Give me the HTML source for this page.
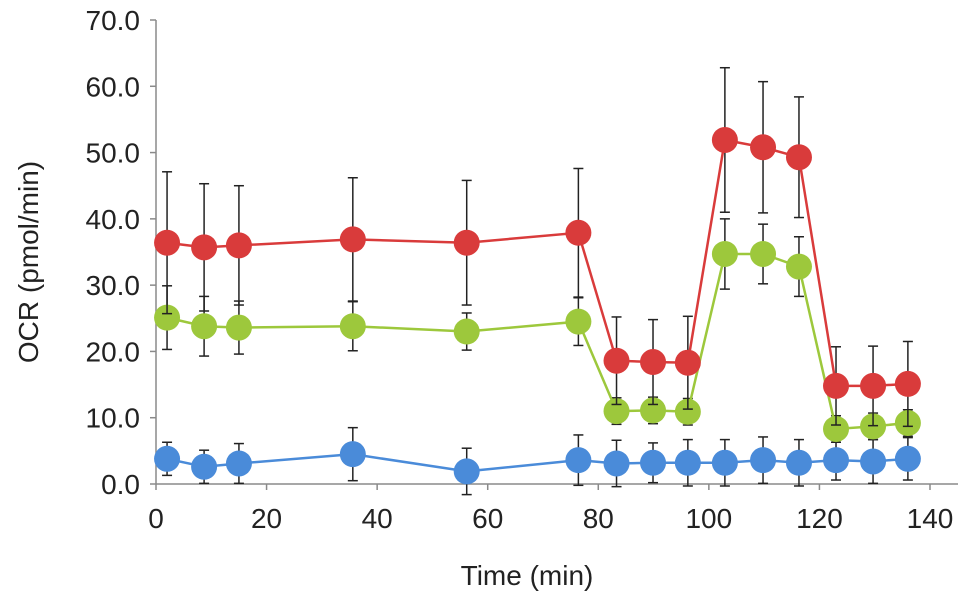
<!DOCTYPE html>
<html><head><meta charset="utf-8"><style>
body{margin:0;background:#fff;}
svg{display:block;font-family:"Liberation Sans",Arial,sans-serif;}
</style></head><body>
<svg id="chart" width="969" height="605" viewBox="0 0 969 605"></svg>
<script>
const times=[2.0,8.7,15.0,35.6,56.2,76.4,83.3,89.9,96.2,102.9,109.8,116.3,123.0,129.7,136.0];
const redVals=[36.4,35.7,36.0,36.9,36.4,37.9,18.6,18.4,18.3,51.9,50.8,49.3,14.8,14.8,15.1];
const redErr=[10.7,9.6,9.0,9.3,9.4,9.7,6.6,6.4,7.0,10.9,9.9,9.1,5.9,6.0,6.4];
const greenVals=[25.1,23.8,23.6,23.8,23.0,24.5,11.0,11.1,10.9,34.7,34.7,32.8,8.3,8.7,9.2];
const greenErr=[4.8,4.5,4.0,3.7,2.8,3.6,2.0,2.0,2.0,5.3,4.5,4.5,2.0,2.0,2.0];
const blueVals=[3.8,2.6,3.1,4.5,1.9,3.6,3.1,3.2,3.2,3.2,3.6,3.2,3.6,3.4,3.8];
const blueErr=[2.5,2.5,3.0,4.0,3.5,3.8,3.5,3.0,3.5,3.5,3.5,3.5,3.0,3.3,3.2];
const xTicks=[0,20,40,60,80,100,120,140];
const yTicks=[0,10,20,30,40,50,60,70];

const NS="http://www.w3.org/2000/svg";
const svg=document.getElementById('chart');
const X0=156,X1=930,Y0=484,Y1=20;
const xs=v=>X0+(v-0)/140*(X1-X0);
const ys=v=>Y0-(v-0)/70*(Y0-Y1);
function mk(tag,attrs,parent){const e=document.createElementNS(NS,tag);for(const k in attrs)e.setAttribute(k,attrs[k]);(parent||svg).appendChild(e);return e;}

const axes=mk('g',{});


const yl=mk('line',{x1:X0,y1:Y1,x2:X0,y2:Y0,stroke:'#8a8a8a','stroke-width':1.5},axes);


const xl=mk('line',{x1:X0,y1:Y0,x2:X1+28,y2:Y0,stroke:'#8a8a8a','stroke-width':1.5},axes);


yTicks.forEach(t=>{
  mk('line',{x1:X0-6,x2:X0,y1:ys(t),y2:ys(t),stroke:'#8a8a8a','stroke-width':1.5},axes);
  const tx=mk('text',{x:X0-16,y:ys(t)+10,'text-anchor':'end','font-size':28,fill:'#222'},axes);
  tx.textContent=t.toFixed(1);
  
  
});
xTicks.forEach(t=>{
  mk('line',{x1:xs(t),x2:xs(t),y1:Y0,y2:Y0+6,stroke:'#8a8a8a','stroke-width':1.5},axes);
  const tx=mk('text',{x:xs(t),y:Y0+44,'text-anchor':'middle','font-size':28,fill:'#222'},axes);
  tx.textContent=t;
  
  
});
const xt=mk('text',{x:527,y:585,'text-anchor':'middle','font-size':28,fill:'#222'});
xt.textContent='Time (min)';


const yt=mk('text',{x:0,y:0,'text-anchor':'middle','font-size':28,fill:'#222',transform:'translate(38,262) rotate(-90)'});
yt.textContent='OCR (pmol/min)';



function series(vals,errs,color,name){
  const g=mk('g',{});
  
  
  vals.forEach((v,i)=>{
    const x=xs(times[i]);
    mk('line',{x1:x,x2:x,y1:ys(v-errs[i]),y2:ys(v+errs[i]),stroke:'#222','stroke-width':1.5},g);
    mk('line',{x1:x-5,x2:x+5,y1:ys(v+errs[i]),y2:ys(v+errs[i]),stroke:'#222','stroke-width':1.5},g);
    mk('line',{x1:x-5,x2:x+5,y1:ys(v-errs[i]),y2:ys(v-errs[i]),stroke:'#222','stroke-width':1.5},g);
  });
  const pts=vals.map((v,i)=>xs(times[i])+','+ys(v)).join(' ');
  const pl=mk('polyline',{points:pts,fill:'none',stroke:color,'stroke-width':2.5},g);
  
  
  vals.forEach((v,i)=>{
    const c=mk('circle',{cx:xs(times[i]),cy:ys(v),r:13,fill:color},g);
    
    
  });
}
series(blueVals,blueErr,'#4a8bd9','blue');
series(greenVals,greenErr,'#9dc83c','green');
series(redVals,redErr,'#d93b3b','red');
</script>
</body></html>
